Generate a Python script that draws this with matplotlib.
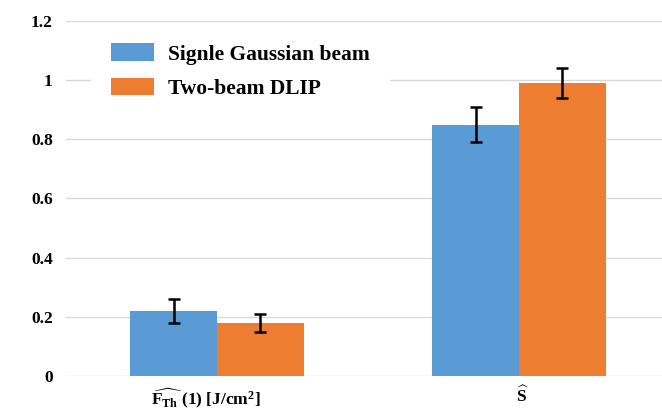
import matplotlib
matplotlib.use("Agg")
import matplotlib.pyplot as plt
import matplotlib.transforms as mtransforms
import numpy as np

plt.rcParams['font.family'] = ['Liberation Serif', 'DejaVu Serif']
plt.rcParams['font.weight'] = 'bold'
plt.rcParams['mathtext.fontset'] = 'custom'
plt.rcParams['mathtext.rm'] = 'Liberation Serif:bold'
plt.rcParams['mathtext.it'] = 'Liberation Serif:bold'
plt.rcParams['mathtext.bf'] = 'Liberation Serif:bold'
plt.rcParams['mathtext.default'] = 'rm'

categories = [r'$\widehat{\mathrm{F}_{\mathrm{Th}}}$ (1) [J/cm$^{2}$]', r'$\widehat{\mathrm{S}}$']
series_names = ['Signle Gaussian beam', 'Two-beam DLIP']
single_values = [0.22, 0.85]
single_errors = [0.04, 0.06]
dlip_values = [0.18, 0.99]
dlip_errors = [0.03, 0.05]
y_ticks = [0, 0.2, 0.4, 0.6, 0.8, 1.0, 1.2]
y_tick_labels = ['0', '0.2', '0.4', '0.6', '0.8', '1', '1.2']

colors = ['#5B9BD5', '#ED7D31']

fig = plt.figure(figsize=(6.62, 4.19), dpi=100)
ax = fig.add_axes([66 / 662, 1 - 376 / 419, (670 - 66) / 662, (376 - 21) / 419])

x = np.arange(len(categories))
w = 0.288
err_kw = dict(ecolor='black', elinewidth=1.8, capsize=4, capthick=1.8)
ax.bar(x - w / 2, single_values, w, yerr=single_errors, color=colors[0],
       label=series_names[0], error_kw=err_kw, zorder=3)
ax.bar(x + w / 2, dlip_values, w, yerr=dlip_errors, color=colors[1],
       label=series_names[1], error_kw=err_kw, zorder=3)

ax.set_xlim(-0.5, 1.5)
ax.set_ylim(0, 1.2)
ax.set_yticks(y_ticks)
ax.set_yticklabels(y_tick_labels, fontsize=12.5, fontweight='bold')
ax.set_xticks(x)
ax.set_xticklabels(categories, fontsize=12.5, fontweight='bold')
ax.tick_params(axis='both', length=0)
ax.tick_params(axis='y', pad=9.5)
ax.tick_params(axis='x', pad=7)
ax.grid(axis='y', color='#D9D9D9', linewidth=1.0, zorder=0)
ax.set_axisbelow(True)
for s in ax.spines.values():
    s.set_visible(False)

# nudge the category labels horizontally
shifts_px = [-11, 4]
for lbl, dx in zip(ax.get_xticklabels(), shifts_px):
    lbl.set_transform(lbl.get_transform() +
                      mtransforms.ScaledTranslation(dx / 100, 0, fig.dpi_scale_trans))

leg = ax.legend(loc='upper left', bbox_to_anchor=(0.0407, 0.995), borderaxespad=0,
                frameon=True, facecolor='white', edgecolor='none', framealpha=1,
                prop={'family': 'Liberation Serif', 'weight': 'bold', 'size': 15.5},
                handlelength=2.0, handleheight=0.9, labelspacing=0.6,
                handletextpad=0.65, borderpad=0.95, fancybox=False)
leg.set_zorder(5)

fig.savefig('out.png', dpi=100)
